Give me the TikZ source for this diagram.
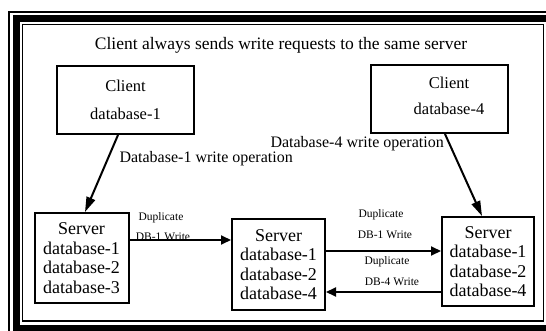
\documentclass[tikz,border=0pt]{standalone}
\usepackage{fontspec}
\setmainfont{Liberation Serif}
\usetikzlibrary{arrows.meta}
\tikzset{
  box/.style={draw, line width=2pt, inner sep=0pt, align=center},
  conn/.style={line width=2pt, -{Triangle[length=10pt,width=9pt]}},
  slant/.style={line width=2pt, -{Triangle[length=15pt,width=9pt]}},
  big/.style={font=\fontsize{16}{19}\selectfont},
  small/.style={font=\fontsize{11.5}{13}\selectfont},
  srv/.style={box, font=\fontsize{18}{19.5}\selectfont},
}
\begin{document}
\begin{tikzpicture}[x=1pt,y=-1pt]
\useasboundingbox (0,0) rectangle (546,331);
% layered border: thin outer line, heavy band, thin inner line
\draw[line width=1.5pt] (9,12) rectangle (600,400);
\draw[line width=7pt] (16.5,18.5) rectangle (600,328);
\draw[line width=1.5pt] (22.5,24.5) rectangle (543.5,321);

\node[anchor=base, font=\fontsize{17.5}{20}\selectfont] (title) at (281,50) {Client always sends write requests to the same server};

% clients
\node[box, minimum width=137pt, minimum height=68pt, font=\fontsize{16.5}{28}\selectfont] (c1) at (125.5,100) {Client\\database-1};
\node[box, minimum width=137pt, minimum height=68pt] (c2) at (439.5,99) {};
\node[align=center, font=\fontsize{16.5}{26}\selectfont] (c2t) at (449,96) {Client\\database-4};

% servers
\node[srv, minimum width=94pt, minimum height=90pt] (s1) at (81.5,258) {Server\\database-1\\database-2\\database-3};
\node[srv, minimum width=93pt, minimum height=91pt] (s2) at (278.5,264.5) {Server\\database-1\\database-2\\database-4};
\node[srv, minimum width=92pt, minimum height=89pt] (s3) at (488,261.5) {Server\\database-1\\database-2\\database-4};

% client writes
\draw[slant] ([xshift=-7.5pt]c1.south) -- ([xshift=3.5pt]s1.north);
\draw[slant] ([xshift=5.5pt]c2.south) -- ([xshift=-6pt]s3.north);
\node[big, anchor=base west] (l1) at (116,163) {Database-1 write operation};
\node[big, anchor=base west] (l4) at (267,148) {Database-4 write operation};

% replication between servers
\draw[conn] (s1.east |- 0,240) -- (s2.west |- 0,240);
\draw[conn] (s2.east |- 0,251) -- (s3.west |- 0,251);
\draw[conn] (s3.west |- 0,292) -- (s2.east |- 0,292);
\node[small] (d1a) at (161,218) {Duplicate};
\node[small] (d1b) at (163,237) {DB-1 Write};
\node[small] (d2a) at (381,215) {Duplicate};
\node[small] (d2b) at (385,235) {DB-1 Write};
\node[small] (d3a) at (387,262) {Duplicate};
\node[small] (d3b) at (392,282) {DB-4 Write};
\end{tikzpicture}
\end{document}
